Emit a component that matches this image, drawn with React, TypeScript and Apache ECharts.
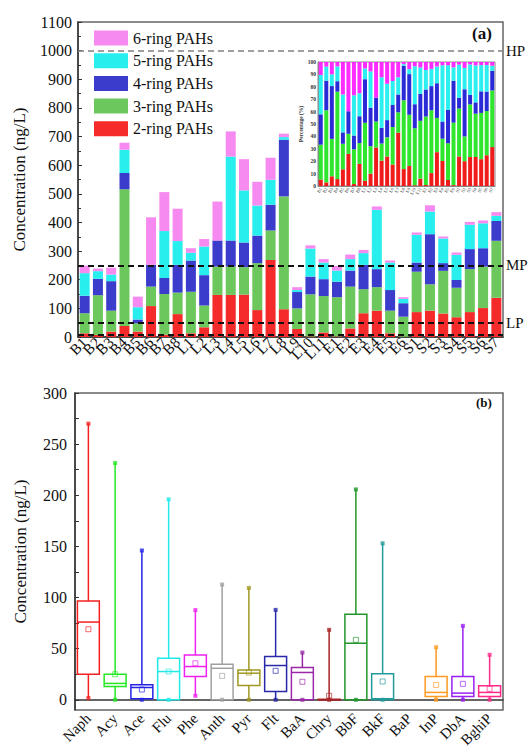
import React, { useEffect, useRef } from 'react';
import * as echarts from 'echarts';

const sites = ['B1','B2','B3','B4','B5','B6','B7','B8','L1','L2','L3','L4','L5','L6','L7','L8','L9','L10','L11','E1','E2','E3','E4','E5','E6','S1','S2','S3','S4','S5','S6','S7'];
const ring2 = [13,7,19,38,19,108,8,80, 13,34,147,147,148,94,269,97,28,2,16, 2,30,83,92,13,1, 87,92,82,69,87,101,137];
const ring3 = [70,139,73,478,29,68,142,75, 145,76,99,99,96,164,103,394,72,147,127, 137,146,84,82,79,70, 141,92,149,103,150,145,199];
const ring4 = [61,57,103,57,13,76,56,97, 109,106,91,91,86,96,90,198,57,62,59, 54,56,85,63,72,47, 32,175,27,27,70,64,69];
const ring5 = [79,27,23,81,43,0,164,83, 27,100,0,293,182,105,87,9,7,98,58, 39,40,41,207,96,15, 97,79,86,88,85,87,18];
const ring6 = [26,9,24,24,37,166,136,113, 16,26,136,88,109,83,77,12,10,11,12, 16,16,11,12,7,6, 8,22,7,8,10,10,13];
const ringNames = ['2-ring PAHs','3-ring PAHs','4-ring PAHs','5-ring PAHs','6-ring PAHs'];
const refLines = [
  { name: 'HP', value: 1000 },
  { name: 'MP', value: 250 },
  { name: 'LP', value: 50 },
  { name: '', value: 8 },
];

const pahs = ['Naph','Acy','Ace','Flu','Phe','Anth','Pyr','Flt','BaA','Chry','BbF','BkF','BaP','InP','DbA','BghiP'];
const boxMin = [1.6,0,0,0,3.9,0,0,0,0,0,0,0,null,0,0,0];
const boxQ1 = [25,13,1,0,22.7,0,14,8,0,0,0,0,null,3.3,3.3,3.3];
const boxMed = [76,16,12,27.6,32.5,30.8,26,33.5,26.7,0,55.3,1,null,7.2,6.5,7.2];
const boxQ3 = [96.5,25,14.6,40.6,43.8,34.7,29.2,42.3,31.6,0.5,83.7,25.4,null,22.8,22.8,13.7];
const boxMax = [270,231.5,146,196,87.7,112.7,109.4,87.9,46.2,68.4,205.7,153,null,51.4,72.3,44];
const boxMean = [69,25,10,27.6,35.7,23.4,26.6,28.3,17.6,3.9,58.6,17.9,null,14.6,15.6,10.7];
const boxColors = ['#f42020','#22e822','#2424e6','#22eaea','#f020f0','#a0a0a0','#a09820','#2828a8','#9a28a8','#a82424','#22962a','#229a9a','#888888','#ff9a22','#9a22f0','#ff2a8a'];
const yTicksBottom = [0,50,100,150,200,250,300];
const yMinorBottom = [0,25,50,75,100,125,150,175,200,225,250,275,300];

const mainColors = ['#f52a2a','#6cc85c','#3b3bcc','#28eeee','#f78af0'];
const insetColors = ['#f01c1c','#2ee62e','#2a2ad6','#2cf0f0','#ff2cff'];

export default function App() {
  const ref = useRef<HTMLDivElement>(null);
  useEffect(() => {
    const chart = echarts.init(ref.current!, null, { renderer: 'svg' });
    const serif = 'Liberation Serif';
    const rings = [ring2, ring3, ring4, ring5, ring6];
    const totals = sites.map((_, i) => rings.reduce((s, r) => s + r[i], 0));
    const pct = (arr: number[]) => arr.map((v, i) => +(v / totals[i] * 100).toFixed(2));
    const plain = (v: number) => String(v);

    const series: any[] = [];
    rings.forEach((r, k) => {
      series.push({
        type: 'bar', name: ringNames[k], stack: 'main', xAxisIndex: 0, yAxisIndex: 0,
        data: r, barWidth: 10, itemStyle: { color: mainColors[k] },
        markLine: k === 0 ? {
          silent: true, symbol: 'none', animation: false,
          data: refLines.map((l, j) => ({
            yAxis: l.value,
            lineStyle: j === 0 ? { color: '#808080', type: [6, 4], width: 1.5 } : { color: '#111', type: [6, 4], width: 2 },
            label: { show: l.name !== '', formatter: l.name, position: 'end', distance: 3, color: '#111', fontFamily: serif, fontSize: 15 },
          })),
        } : undefined,
      });
    });
    rings.forEach((r, k) => {
      series.push({
        type: 'bar', name: 'inset' + k, stack: 'inset', xAxisIndex: 1, yAxisIndex: 1,
        data: pct(r), barWidth: '72%', itemStyle: { color: insetColors[k] },
      });
    });

    const boxData: any[] = [];
    const meanData: any[] = [];
    const endData: any[] = [];
    pahs.forEach((p, i) => {
      if (boxMax[i] == null) return;
      boxData.push({ value: [i, boxMin[i], boxQ1[i], boxMed[i], boxQ3[i], boxMax[i]] });
      meanData.push({ value: [i, boxMean[i]], itemStyle: { borderColor: boxColors[i] } });
      endData.push({ value: [i, boxMax[i]], itemStyle: { color: boxColors[i] } });
      endData.push({ value: [i, boxMin[i]], itemStyle: { color: boxColors[i] } });
    });

    series.push({
      type: 'custom', xAxisIndex: 2, yAxisIndex: 2, clip: false,
      encode: { x: 0, y: [1, 2, 3, 4, 5] },
      data: boxData,
      renderItem: (params: any, api: any) => {
        const idx = api.value(0);
        const color = boxColors[idx];
        const pMin = api.coord([idx, api.value(1)]);
        const pQ1 = api.coord([idx, api.value(2)]);
        const pMed = api.coord([idx, api.value(3)]);
        const pQ3 = api.coord([idx, api.value(4)]);
        const pMax = api.coord([idx, api.value(5)]);
        const w = api.size([1, 0])[0] * 0.82;
        const cx = pQ1[0];
        const st = { stroke: color, lineWidth: 1.5, fill: 'none' };
        return {
          type: 'group',
          children: [
            { type: 'line', shape: { x1: cx, y1: pQ3[1], x2: cx, y2: pMax[1] }, style: st },
            { type: 'line', shape: { x1: cx, y1: pQ1[1], x2: cx, y2: pMin[1] }, style: st },
            { type: 'rect', shape: { x: cx - w / 2, y: pQ3[1], width: w, height: Math.max(pQ1[1] - pQ3[1], 0.5) }, style: st },
            { type: 'line', shape: { x1: cx - w / 2, y1: pMed[1], x2: cx + w / 2, y2: pMed[1] }, style: st },
          ],
        };
      },
    });
    series.push({
      type: 'scatter', xAxisIndex: 2, yAxisIndex: 2, symbol: 'rect', symbolSize: 5,
      itemStyle: { color: 'rgba(255,255,255,0)', borderWidth: 0.9, opacity: 0.75 },
      data: meanData, z: 5,
    });
    series.push({
      type: 'scatter', xAxisIndex: 2, yAxisIndex: 2, symbol: 'rect', symbolSize: 4,
      data: endData, z: 6,
    });

    chart.setOption({
      animation: false,
      backgroundColor: '#fff',
      textStyle: { fontFamily: serif },
      legend: {
        data: ['6-ring PAHs', '5-ring PAHs', '4-ring PAHs', '3-ring PAHs', '2-ring PAHs'],
        orient: 'vertical', left: 89, top: 25, itemWidth: 34, itemHeight: 15, itemGap: 6.7,
        icon: 'rect', selectedMode: false,
        textStyle: { fontFamily: serif, fontSize: 16, color: '#111' },
      },
      grid: [
        { left: 78, top: 22, width: 425, height: 315, show: true, borderColor: '#666', borderWidth: 1.5, backgroundColor: 'rgba(0,0,0,0)' },
        { left: 318, top: 62, width: 177, height: 124, show: true, borderColor: '#888', borderWidth: 1, backgroundColor: 'rgba(0,0,0,0)' },
        { left: 75, top: 393, width: 428, height: 317, show: true, borderColor: '#666', borderWidth: 1.5, backgroundColor: 'rgba(0,0,0,0)' },
      ],
      xAxis: [
        {
          type: 'category', gridIndex: 0, data: sites,
          axisLine: { lineStyle: { color: '#333', width: 1.5 } }, axisTick: { show: false },
          axisLabel: { interval: 0, rotate: 45, fontFamily: serif, fontSize: 15, color: '#111', margin: 3 },
        },
        {
          type: 'category', gridIndex: 1, data: sites,
          axisLine: { lineStyle: { color: '#888', width: 1 } }, axisTick: { show: false },
          axisLabel: { interval: 0, rotate: 60, fontFamily: serif, fontSize: 4.5, color: '#333', margin: 2 },
        },
        {
          type: 'category', gridIndex: 2, data: pahs,
          axisLine: { lineStyle: { color: '#333', width: 1.5 } }, axisTick: { show: false },
          axisLabel: { interval: 0, rotate: 45, fontFamily: serif, fontSize: 15, color: '#111', margin: 6 },
        },
      ],
      yAxis: [
        {
          type: 'value', gridIndex: 0, min: 0, max: 1100, interval: 100,
          name: 'Concentration (ng/L)', nameLocation: 'middle', nameGap: 50,
          nameTextStyle: { fontFamily: serif, fontSize: 17, color: '#111' },
          axisLine: { show: true, lineStyle: { color: '#333', width: 1.5 } },
          axisTick: { show: true, inside: true, length: 4, lineStyle: { color: '#333' } },
          minorTick: { show: true, splitNumber: 2, length: 3, lineStyle: { color: '#333' } },
          splitLine: { show: false },
          axisLabel: { fontFamily: serif, fontSize: 16, color: '#111', margin: 6, formatter: plain },
        },
        {
          type: 'value', gridIndex: 1, min: 0, max: 100, interval: 10,
          name: 'Percentage (%)', nameLocation: 'middle', nameGap: 13,
          nameTextStyle: { fontFamily: serif, fontSize: 5.5, fontWeight: 'bold', color: '#333' },
          axisLine: { show: true, lineStyle: { color: '#888', width: 1 } },
          axisTick: { show: false }, splitLine: { show: false },
          axisLabel: { fontFamily: serif, fontSize: 5.5, fontWeight: 'bold', color: '#333', margin: 2 },
        },
        {
          type: 'value', gridIndex: 2, min: -10, max: 300,
          name: 'Concentration (ng/L)', nameLocation: 'middle', nameGap: 46,
          nameTextStyle: { fontFamily: serif, fontSize: 17, color: '#111' },
          axisLine: { show: true, lineStyle: { color: '#333', width: 1.5 } },
          axisTick: { show: true, inside: true, length: 4, customValues: yMinorBottom, lineStyle: { color: '#333' } },
          splitLine: { show: false },
          axisLabel: { fontFamily: serif, fontSize: 16, color: '#111', margin: 8, customValues: yTicksBottom, formatter: plain },
        },
      ],
      graphic: [
        { type: 'text', left: 472, top: 25, style: { text: '(a)', fontFamily: serif, fontSize: 17, fontWeight: 'bold', fill: '#111' } },
        { type: 'text', left: 476, top: 396, style: { text: '(b)', fontFamily: serif, fontSize: 13, fontWeight: 'bold', fill: '#111' } },
      ],
      series,
    });
    return () => chart.dispose();
  }, []);
  return <div ref={ref} style={{ position: 'fixed', left: 0, top: 0, width: 531, height: 750 }} />;
}
